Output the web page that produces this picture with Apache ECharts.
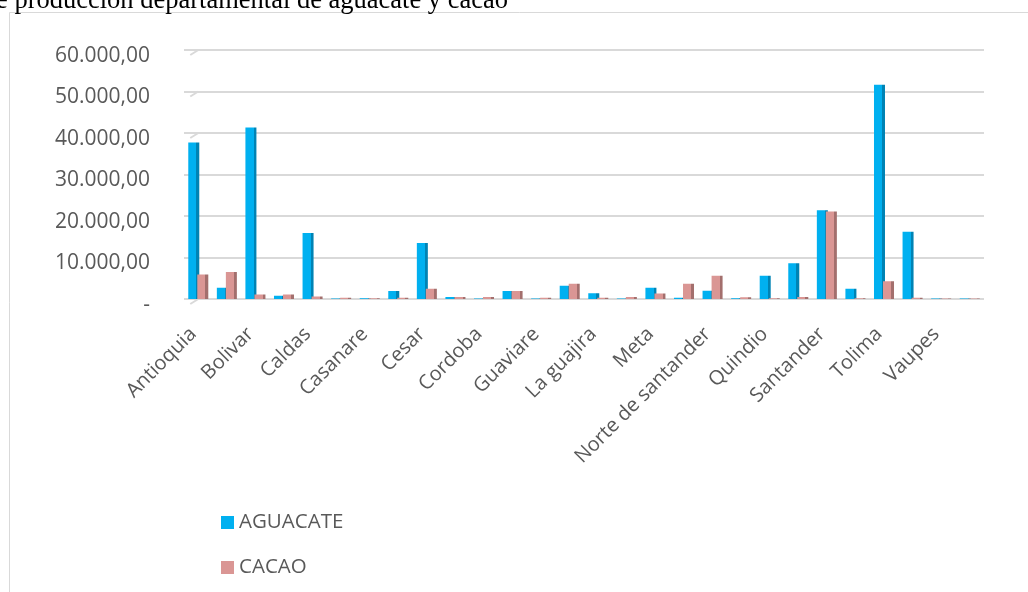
<!DOCTYPE html>
<html>
<head>
<meta charset="utf-8">
<script src="https://cdn.jsdelivr.net/npm/echarts@6/dist/echarts.min.js"></script>
<style>
  html, body { margin: 0; padding: 0; background: #ffffff; }
  #chart { width: 1028px; height: 592px; }
</style>
</head>
<body>
<div id="chart"></div>
<script>
// Departments (alphabetical); the axis shows every other name
const categories = [
  'Antioquia', 'Arauca', 'Bolivar', 'Boyaca', 'Caldas', 'Caqueta', 'Casanare',
  'Cauca', 'Cesar', 'Choco', 'Cordoba', 'Cundinamarca', 'Guaviare', 'Huila',
  'La guajira', 'Magdalena', 'Meta', 'Nariño', 'Norte de santander', 'Putumayo',
  'Quindio', 'Risaralda', 'Santander', 'Sucre', 'Tolima', 'Valle del cauca',
  'Vaupes', 'Vichada'
];

const aguacate = [
  37700, 2700, 41300, 800, 15900, 100, 200,
  1900, 13500, 500, 100, 1900, 100, 3200,
  1400, 100, 2700, 300, 2000, 200,
  5600, 8600, 21400, 2500, 51600, 16200,
  100, 100
];

const cacao = [
  5900, 6500, 1100, 1100, 600, 300, 200,
  300, 2500, 500, 500, 1900, 300, 3700,
  300, 500, 1300, 3700, 5600, 400,
  200, 500, 21100, 200, 4300, 300,
  100, 100
];

const seriesNames = ['AGUACATE', 'CACAO'];
const seriesColors = ['#00b0f0', '#da9694'];
const sideColors = ['#0083b4', '#a36f6d'];
const yMax = 60000;
const yStep = 10000;

// 60000 -> "60.000,00", zero -> "-"
function formatValue(v) {
  if (v === 0) return '-';
  const whole = Math.round(v).toString().replace(/\B(?=(\d{3})+(?!\d))/g, '.');
  return whole + ',00';
}

// Front face plus a darker side strip for a column look
function columnFill(face, side) {
  return new echarts.graphic.LinearGradient(0, 0, 1, 0, [
    { offset: 0, color: face },
    { offset: 0.74, color: face },
    { offset: 0.74, color: side },
    { offset: 1, color: side }
  ]);
}

const chart = echarts.init(document.getElementById('chart'), null, { renderer: 'canvas' });

const labelColor = '#595959';
const labelFont = '"Open Sans", "Noto Sans", sans-serif';
const gridColor = '#d9d9d9';

const baseGraphics = [
  {
    type: 'rect',
    shape: { x: 9.5, y: 12.5, width: 1100, height: 700 },
    style: { fill: 'none', stroke: gridColor, lineWidth: 1 },
    z: 0
  },
  {
    type: 'text',
    left: -4,
    top: -12,
    style: {
      text: 'e producción departamental de aguacate y cacao',
      font: '26.5px "Liberation Serif", "Times New Roman", serif',
      fill: '#000000'
    },
    z: 10
  }
];

chart.setOption({
  animation: false,
  backgroundColor: '#ffffff',
  graphic: baseGraphics,
  legend: {
    orient: 'vertical',
    left: 216,
    top: 507,
    itemWidth: 13,
    itemHeight: 13,
    itemGap: 24,
    icon: 'rect',
    data: seriesNames.map((n, i) => ({ name: n, itemStyle: { color: seriesColors[i] } })),
    textStyle: { color: labelColor, fontSize: 20.5, fontFamily: labelFont, lineHeight: 21 }
  },
  grid: {
    left: 184,
    right: 44,
    top: 50,
    bottom: 293,
    containLabel: false
  },
  xAxis: {
    type: 'category',
    data: categories,
    axisLine: { show: false },
    axisTick: { show: false },
    axisLabel: {
      interval: 1,
      rotate: 45,
      margin: 27,
      padding: [0, 7, 0, 0],
      color: labelColor,
      fontSize: 20,
      fontFamily: labelFont
    }
  },
  yAxis: {
    type: 'value',
    min: 0,
    max: yMax,
    interval: yStep,
    axisLine: { show: false },
    axisTick: { show: false },
    splitLine: { lineStyle: { color: gridColor, width: 2 } },
    axisLabel: {
      margin: 34,
      color: labelColor,
      fontSize: 21,
      fontFamily: labelFont,
      verticalAlign: 'top',
      lineHeight: 12,
      formatter: formatValue
    }
  },
  series: seriesNames.map((n, i) => ({
    name: n,
    type: 'bar',
    data: i === 0 ? aguacate : cacao,
    barWidth: 11,
    barGap: '-18%',
    itemStyle: { color: columnFill(seriesColors[i], sideColors[i]) }
  }))
});

// Short slanted segments where each gridline meets the side wall
const slants = [];
for (let v = 0; v <= yMax; v += yStep) {
  const p = chart.convertToPixel({ gridIndex: 0 }, [0, v]);
  const y = p[1];
  const x0 = chart.convertToPixel({ gridIndex: 0 }, [-0.5, v])[0];
  slants.push({
    type: 'line',
    shape: { x1: x0, y1: y, x2: x0 - 8, y2: y + 5 },
    style: { stroke: gridColor, lineWidth: 2 },
    z: 1
  });
}
chart.setOption({ graphic: baseGraphics.concat(slants) });
</script>
</body>
</html>
